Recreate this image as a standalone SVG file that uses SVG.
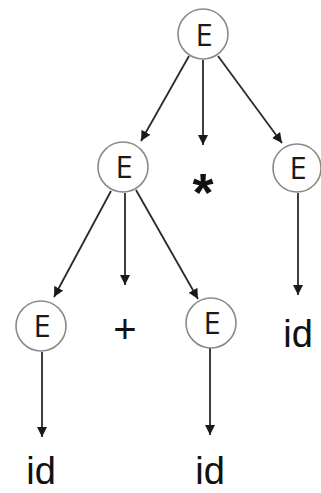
<svg xmlns="http://www.w3.org/2000/svg" width="321" height="493" viewBox="0 0 321 493">
<style>
.n{fill:#fff;stroke:#8a8a8a;stroke-width:1.6}
.e{font-family:"Open Sans","Liberation Sans",sans-serif;font-size:31px;fill:#1a1a1a;text-anchor:middle}
.t{font-family:"Liberation Sans",Arial,sans-serif;font-size:38px;fill:#111;text-anchor:middle}
.c line{stroke:#2a2a2a;stroke-width:1.8;marker-end:url(#a)}
</style>
<defs>
<marker id="a" markerUnits="userSpaceOnUse" markerWidth="11" markerHeight="11" refX="10" refY="5.5" orient="auto">
<path d="M0,0.5 L10,5.5 L0,10.5 z" fill="#1a1a1a"/>
</marker>
</defs>
<rect width="321" height="493" fill="#fff"/>
<g id="connectors" class="c">
<line x1="189" y1="56" x2="141" y2="141"/>
<line x1="203" y1="60" x2="203" y2="145"/>
<line x1="218" y1="56" x2="282" y2="143"/>
<line x1="111" y1="191" x2="54" y2="297"/>
<line x1="125" y1="193" x2="125" y2="285"/>
<line x1="136" y1="190" x2="198" y2="299"/>
<line x1="298" y1="193" x2="298" y2="295"/>
<line x1="42" y1="352" x2="42" y2="437"/>
<line x1="210" y1="348" x2="210" y2="435"/>
</g>
<g id="E_root"><circle class="n" cx="203" cy="34" r="25"/><text class="e" x="204" y="46">E</text></g>
<g id="E_mid"><circle class="n" cx="123" cy="167" r="25"/><text class="e" x="124" y="178">E</text></g>
<g id="star"><text class="t" x="203" y="211" style="font-size:54px;font-weight:bold">*</text></g>
<g id="E_right"><circle class="n" cx="297" cy="168" r="24"/><text class="e" x="298" y="179">E</text></g>
<g id="E_left"><circle class="n" cx="41" cy="326" r="25"/><text class="e" x="42" y="337">E</text></g>
<g id="plus"><text class="t" x="125" y="343" style="font-size:40px">+</text></g>
<g id="E_bmid"><circle class="n" cx="211" cy="323" r="25"/><text class="e" x="212" y="334">E</text></g>
<g id="id_right"><text class="t" x="298" y="347">id</text></g>
<g id="id_left"><text class="t" x="41" y="484">id</text></g>
<g id="id_bmid"><text class="t" x="210" y="484">id</text></g>
</svg>
